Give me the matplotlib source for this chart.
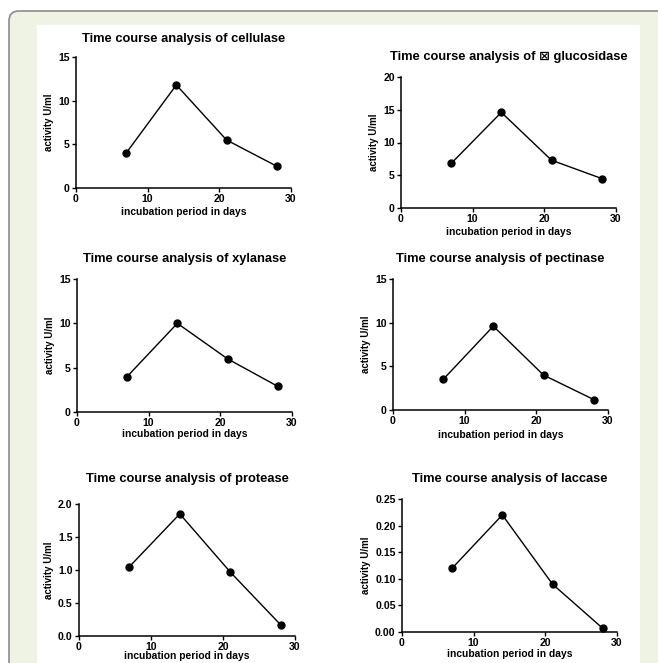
import matplotlib
matplotlib.use("Agg")
import matplotlib.pyplot as plt
from matplotlib.patches import FancyBboxPatch, Rectangle

W, H = 658, 663

days = [7, 14, 21, 28]

cellulase = [4.0, 11.8, 5.5, 2.5]
glucosidase = [6.8, 14.6, 7.3, 4.5]
xylanase = [4.0, 10.0, 6.0, 2.9]
pectinase = [3.5, 9.6, 4.0, 1.2]
protease = [1.05, 1.85, 0.97, 0.17]
laccase = [0.12, 0.22, 0.09, 0.007]

titles = [
    "Time course analysis of cellulase",
    "Time course analysis of \u22a0 glucosidase",
    "Time course analysis of xylanase",
    "Time course analysis of pectinase",
    "Time course analysis of protease",
    "Time course analysis of laccase",
]
series = [cellulase, glucosidase, xylanase, pectinase, protease, laccase]
y_max = [15, 20, 15, 15, 2.0, 0.25]
y_ticks = [
    [0, 5, 10, 15],
    [0, 5, 10, 15, 20],
    [0, 5, 10, 15],
    [0, 5, 10, 15],
    [0.0, 0.5, 1.0, 1.5, 2.0],
    [0.00, 0.05, 0.10, 0.15, 0.20, 0.25],
]
y_fmt = ["{:.0f}", "{:.0f}", "{:.0f}", "{:.0f}", "{:.1f}", "{:.2f}"]
x_ticks = [0, 10, 20, 30]

# pixel boxes: x0, x1, ytop, ybottom, title y, xlabel y
boxes = [
    (76, 291, 57, 188, 39, 212),
    (401, 616, 77, 208, 57, 232),
    (77, 292, 279, 412, 259, 434),
    (393, 608, 279, 410, 259, 435),
    (79, 295, 504, 636, 479, 656),
    (402, 617, 499, 632, 479, 654),
]

plt.rcParams["font.family"] = ["Liberation Sans", "DejaVu Sans"]

fig = plt.figure(figsize=(W / 100, H / 100), dpi=100)
fig.patch.set_facecolor("white")

# frame around the figure
frame = FancyBboxPatch((9 / W, 1 - 1.2), 1.2, 1.2 - 11 / H,
                       boxstyle="round,pad=0,rounding_size=0.015",
                       transform=fig.transFigure, facecolor="#eef3e4",
                       edgecolor="#8c8c8c", linewidth=1.2, zorder=-2)
fig.patches.append(frame)
inner = Rectangle((37 / W, 0), (640 - 37) / W, 1 - 25 / H,
                  transform=fig.transFigure, facecolor="white",
                  edgecolor="none", zorder=-1)
fig.patches.append(inner)

for i, (x0, x1, yt, yb, ty, ly) in enumerate(boxes):
    ax = fig.add_axes([x0 / W, 1 - yb / H, (x1 - x0) / W, (yb - yt) / H])
    ax.set_facecolor("none")
    ax.plot(days, series[i], color="black", linewidth=1.0,
            marker="o", markersize=5, clip_on=False)
    ax.set_xlim(0, 30)
    ax.set_ylim(0, y_max[i])
    ax.set_xticks(x_ticks)
    ax.set_yticks(y_ticks[i])
    ax.set_yticklabels([y_fmt[i].format(v) for v in y_ticks[i]])
    for s in ["top", "right"]:
        ax.spines[s].set_visible(False)
    for s in ["left", "bottom"]:
        ax.spines[s].set_linewidth(1.1)
    ax.tick_params(direction="out", length=3, width=1.0, labelsize=7.6, pad=1.5)
    for lab in ax.get_xticklabels() + ax.get_yticklabels():
        lab.set_fontweight("bold")
    ax.set_ylabel("activity U/ml", fontsize=7, fontweight="bold", labelpad=3)
    fig.text((x0 + x1) / 2 / W, 1 - ty / H, titles[i], ha="center", va="center",
             fontsize=9.3, fontweight="bold")
    fig.text((x0 + x1) / 2 / W, 1 - ly / H, "incubation period in days",
             ha="center", va="center", fontsize=7.4, fontweight="bold")

fig.savefig("out.png", dpi=100)
